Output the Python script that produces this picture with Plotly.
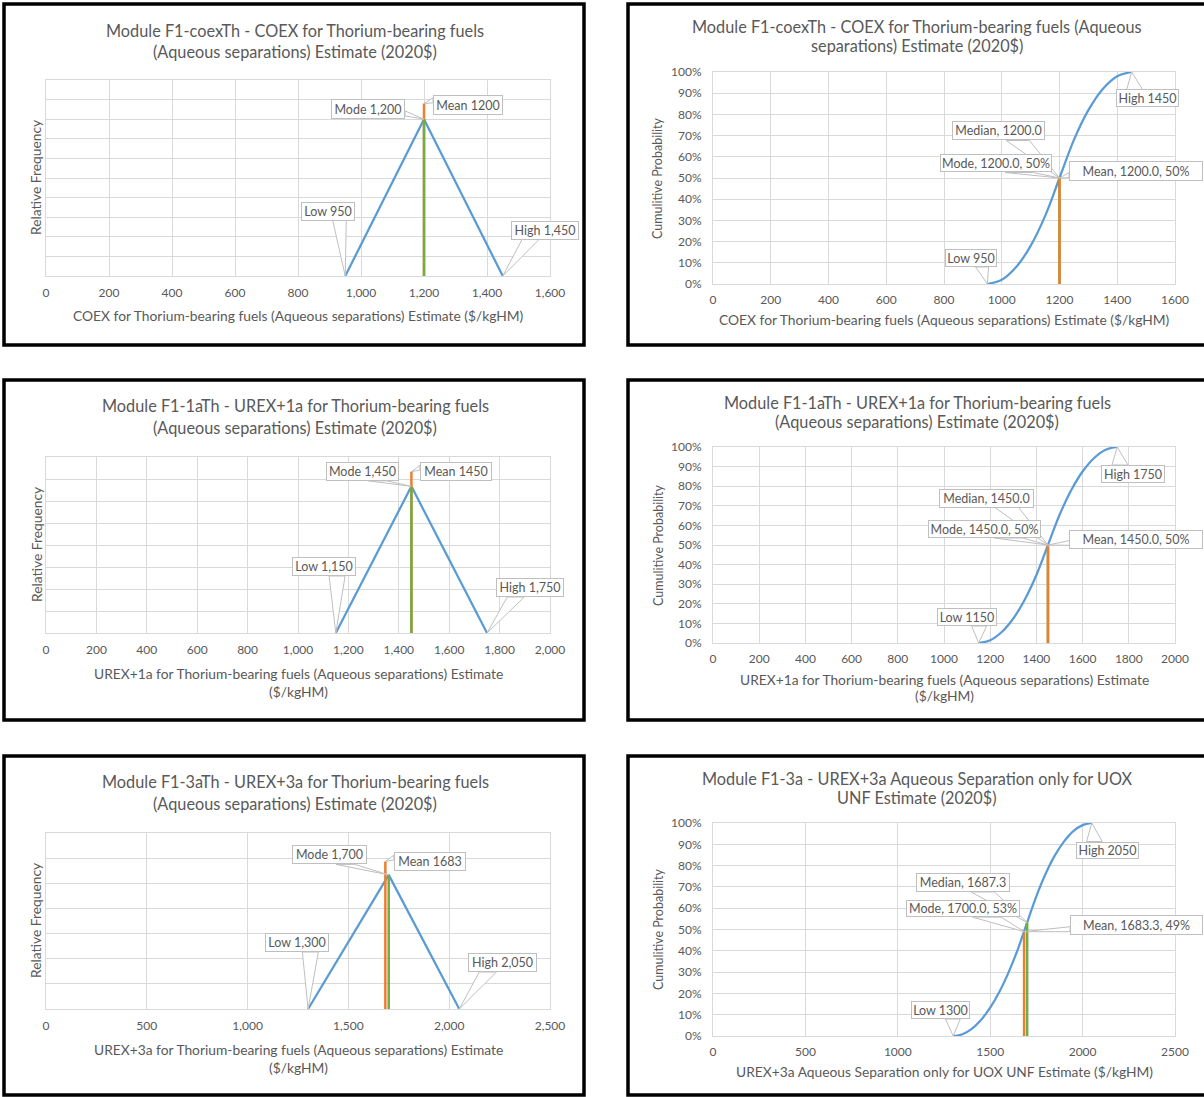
import plotly.graph_objects as go

W, H = 1204, 1097

# ---------------- values ($/kgHM) ----------------
# Module F1-coexTh - COEX for thorium-bearing fuels
coex_low, coex_mode, coex_high = 950, 1200, 1450
coex_mean = 1200.0
coex_median = 1200.0
coex_tri_x = [950, 1200, 1450]
coex_tri_y = [0.0, 0.0040, 0.0]
coex_mode_freq = 0.0040
coex_mean_freq = 0.0044
coex_cdf_x = [950, 1000, 1050, 1100, 1150, 1200, 1250, 1300, 1350, 1400, 1450]
coex_cdf_y = [0.0, 0.02, 0.08, 0.18, 0.32, 0.50, 0.68, 0.82, 0.92, 0.98, 1.0]
coex_mode_cum = 0.50
coex_mean_cum = 0.50

# Module F1-1aTh - UREX+1a for thorium-bearing fuels
u1a_low, u1a_mode, u1a_high = 1150, 1450, 1750
u1a_mean = 1450.0
u1a_median = 1450.0
u1a_tri_x = [1150, 1450, 1750]
u1a_tri_y = [0.0, 0.003333, 0.0]
u1a_mode_freq = 0.003333
u1a_mean_freq = 0.003667
u1a_cdf_x = [1150, 1200, 1250, 1300, 1350, 1400, 1450, 1500, 1550, 1600, 1650, 1700, 1750]
u1a_cdf_y = [0.0, 0.014, 0.056, 0.125, 0.222, 0.347, 0.50, 0.653, 0.778, 0.875, 0.944, 0.986, 1.0]
u1a_mode_cum = 0.50
u1a_mean_cum = 0.50

# Module F1-3aTh - UREX+3a for thorium-bearing fuels
u3th_low, u3th_mode, u3th_high = 1300, 1700, 2050
u3th_mean = 1683.3
u3th_tri_x = [1300, 1700, 2050]
u3th_tri_y = [0.0, 0.002667, 0.0]
u3th_mode_freq = 0.002667
u3th_mean_freq = 0.002933

# Module F1-3a - UREX+3a aqueous separation only for UOX UNF
u3_low, u3_mode, u3_high = 1300, 1700, 2050
u3_mean = 1683.3
u3_median = 1687.3
u3_cdf_x = [1300, 1350, 1400, 1450, 1500, 1550, 1600, 1650, 1700,
            1750, 1800, 1850, 1900, 1950, 2000, 2050]
u3_cdf_y = [0.0, 0.008, 0.033, 0.075, 0.133, 0.208, 0.30, 0.408, 0.533,
            0.657, 0.762, 0.848, 0.914, 0.962, 0.990, 1.0]
u3_mode_cum = 0.533
u3_mean_cum = 0.49

BLUE = "#5B9BD5"
ORANGE = "#ED7D31"
GREEN = "#70AD47"
GRID = "#D9D9D9"
TXT = "#595959"
FONT = "Lato"


def px(xp):
    return xp / W


def py(yp):
    return 1 - yp / H


# Plot areas in page pixels: (left, right), (top, bottom)
panels = [
    dict(n=1, kind="pdf", xd=(46, 550), yd=(80, 276), xr=[0, 1600], xdt=200, yr=[0, 0.005]),
    dict(n=2, kind="cdf", xd=(713, 1175), yd=(72, 284), xr=[0, 1600], xdt=200),
    dict(n=3, kind="pdf", xd=(46, 550), yd=(457, 633), xr=[0, 2000], xdt=200, yr=[0, 0.004]),
    dict(n=4, kind="cdf", xd=(713, 1175), yd=(447, 643), xr=[0, 2000], xdt=200),
    dict(n=5, kind="pdf", xd=(46, 550), yd=(833, 1009), xr=[0, 2500], xdt=500, yr=[0, 0.0035]),
    dict(n=6, kind="cdf", xd=(713, 1175), yd=(823, 1036), xr=[0, 2500], xdt=500),
]

fig = go.Figure()
layout = dict(
    width=W, height=H, autosize=False, margin=dict(l=0, r=0, t=0, b=0, pad=0, autoexpand=False),
    paper_bgcolor="white", plot_bgcolor="white", showlegend=False,
    font=dict(family=FONT, color=TXT, size=12),
)

for p in panels:
    s = "" if p["n"] == 1 else str(p["n"])
    xa = dict(
        domain=[px(p["xd"][0]), px(p["xd"][1])], range=p["xr"], dtick=p["xdt"], tick0=0,
        showgrid=True, gridcolor=GRID, gridwidth=1, zeroline=False, automargin=False,
        showline=True, linecolor=GRID, linewidth=1, mirror=True, ticks="",
        tickfont=dict(family=FONT, size=12, color=TXT),
        tickformat="," if p["kind"] == "pdf" else "d",
        anchor="y" + s, fixedrange=True,
        ticklabelstandoff=6 if p["kind"] == "pdf" else 5,
    )
    ya = dict(
        domain=[py(p["yd"][1]), py(p["yd"][0])],
        showgrid=True, gridcolor=GRID, gridwidth=1, zeroline=False, automargin=False,
        showline=True, linecolor=GRID, linewidth=1, mirror=True, ticks="",
        tickfont=dict(family=FONT, size=12, color=TXT),
        anchor="x" + s, fixedrange=True,
    )
    if p["kind"] == "pdf":
        ya.update(range=p["yr"], dtick=0.0005, tick0=0, showticklabels=False)
    else:
        ya.update(range=[0, 1], dtick=0.1, tick0=0, tickformat=".0%", ticklabelstandoff=8)
    layout["xaxis" + s] = xa
    layout["yaxis" + s] = ya


def line(n, x, y, color, width=2.5, shape="linear"):
    s = "" if n == 1 else str(n)
    fig.add_trace(go.Scatter(
        x=x, y=y, mode="lines", line=dict(color=color, width=width, shape=shape),
        xaxis="x" + s, yaxis="y" + s, hoverinfo="skip"))


# Relative-frequency (triangular) panels
for n, tx, ty, mo, mo_f, me, me_f in [
    (1, coex_tri_x, coex_tri_y, coex_mode, coex_mode_freq, coex_mean, coex_mean_freq),
    (3, u1a_tri_x, u1a_tri_y, u1a_mode, u1a_mode_freq, u1a_mean, u1a_mean_freq),
    (5, u3th_tri_x, u3th_tri_y, u3th_mode, u3th_mode_freq, u3th_mean, u3th_mean_freq),
]:
    line(n, tx, ty, BLUE, 2.25)
    line(n, [me, me], [0, me_f], ORANGE, 2.5)
    line(n, [mo, mo], [0, mo_f], GREEN, 2.5)

# Cumulative-probability panels
for n, cx, cy, mo, mo_c, me, me_c in [
    (2, coex_cdf_x, coex_cdf_y, coex_mode, coex_mode_cum, coex_mean, coex_mean_cum),
    (4, u1a_cdf_x, u1a_cdf_y, u1a_mode, u1a_mode_cum, u1a_mean, u1a_mean_cum),
    (6, u3_cdf_x, u3_cdf_y, u3_mode, u3_mode_cum, u3_mean, u3_mean_cum),
]:
    line(n, cx, cy, BLUE, 2.25, "spline")
    line(n, [mo, mo], [0, mo_c], GREEN, 2.5)
    line(n, [me, me], [0, me_c], ORANGE, 2.5)

# ---------------- callout labels ----------------
# (panel, text, tip x, tip y, box-centre offset from tip in px (right, down), box w, box h)
callouts = [
    (1, f"Mode {coex_mode:,}", coex_mode, coex_mode_freq, -56, -10, 74, 20),
    (1, f"Mean {coex_mean:.0f}", coex_mean, coex_mean_freq, 44, 1, 70, 20),
    (1, f"Low {coex_low:,}", coex_low, 0, -17, -65, 54, 19),
    (1, f"High {coex_high:,}", coex_high, 0, 42, -46, 68, 19),

    (2, f"High {coex_high}", coex_high, 1.0, 16, 26.5, 63, 18),
    (2, f"Median, {coex_median:.1f}", coex_mode, coex_mode_cum, -61, -47, 93, 19),
    (2, f"Mode, {coex_mode:.1f}, {coex_mode_cum:.0%}", coex_mode, coex_mode_cum, -63.5, -14.5, 112, 18),
    (2, f"Mean, {coex_mean:.1f}, {coex_mean_cum:.0%}", coex_mean, coex_mean_cum, 76.5, -7, 134, 20),
    (2, f"Low {coex_low}", coex_low, 0, -16, -26, 52, 18),

    (3, f"Mode {u1a_mode:,}", u1a_mode, u1a_mode_freq, -49, -15, 73, 19),
    (3, f"Mean {u1a_mean:.0f}", u1a_mean, u1a_mean_freq, 44.5, 0, 72, 19),
    (3, f"Low {u1a_low:,}", u1a_low, 0, -12, -66.5, 64, 19),
    (3, f"High {u1a_high:,}", u1a_high, 0, 43, -45.5, 68, 19),

    (4, f"High {u1a_high}", u1a_high, 1.0, 16, 27, 64, 18),
    (4, f"Median, {u1a_median:.1f}", u1a_mode, u1a_mode_cum, -61, -47, 95, 19),
    (4, f"Mode, {u1a_mode:.1f}, {u1a_mode_cum:.0%}", u1a_mode, u1a_mode_cum, -63, -16, 113, 18),
    (4, f"Mean, {u1a_mean:.1f}, {u1a_mean_cum:.0%}", u1a_mean, u1a_mean_cum, 88.5, -6, 134, 19),
    (4, f"Low {u1a_low}", u1a_low, 0, -12, -26, 60, 18),

    (5, f"Mode {u3th_mode:,}", u3th_mode, u3th_mode_freq, -59, -20, 75, 19),
    (5, f"Mean {u3th_mean:.0f}", u3th_mean, u3th_mean_freq, 44.5, 0, 72, 19),
    (5, f"Low {u3th_low:,}", u3th_low, 0, -11, -66.5, 64, 19),
    (5, f"High {u3th_high:,}", u3th_high, 0, 43, -46.5, 69, 19),

    (6, f"High {u3_high}", u3_high, 1.0, 15.7, 27, 63, 17),
    (6, f"Median, {u3_median:.1f}", u3_mode, u3_mode_cum, -64, -40, 94, 19),
    (6, f"Mode, {u3_mode:.1f}, {u3_mode_cum:.0%}", u3_mean, u3_mean_cum, -61, -23, 114, 17),
    (6, f"Mean, {u3_mean:.1f}, {u3_mean_cum:.0%}", u3_mean, u3_mean_cum, 112.5, -6.6, 133, 20),
    (6, f"Low {u3_low}", u3_low, 0, -12.7, -26, 59, 18),
]


def wedge(ox, oy, w, h):
    """Rectangle-callout wedge: tip at (0,0), base on the box side facing the tip."""
    dxp, dyp = -ox, -oy
    left, top = ox - w / 2, oy - h / 2
    dq = dxp * h / w
    if abs(dyp) - abs(dq) > 0:
        yb = oy + h / 2 if dyp > 0 else oy - h / 2
        g1, g2 = (7, 10) if dxp > 0 else (2, 5)
        b1, b2 = (left + w * g1 / 12, yb), (left + w * g2 / 12, yb)
    else:
        xb = ox + w / 2 if dxp > 0 else ox - w / 2
        g1, g2 = (7, 10) if dyp > 0 else (2, 5)
        b1, b2 = (xb, top + h * g1 / 12), (xb, top + h * g2 / 12)
    # pixel paths measure y upward
    return f"M{b1[0]:.1f},{-b1[1]:.1f} L0,0 L{b2[0]:.1f},{-b2[1]:.1f} Z"


shapes = []
annotations = []
for n, text, tx, ty, ox, oy, w, h in callouts:
    s = "" if n == 1 else str(n)
    shapes.append(dict(
        type="path", xref="x" + s, yref="y" + s, xsizemode="pixel", ysizemode="pixel",
        xanchor=tx, yanchor=ty, path=wedge(ox, oy, w, h),
        line=dict(color="#BFBFBF", width=1), fillcolor="white", layer="above"))
    annotations.append(dict(
        xref="x" + s, yref="y" + s, x=tx, y=ty, xshift=ox, yshift=-oy,
        text=text, showarrow=False, xanchor="center", yanchor="middle",
        width=w - 2, height=h - 2, borderpad=0, borderwidth=1,
        bordercolor="#BFBFBF", bgcolor="white",
        font=dict(family=FONT, size=12.5, color=TXT)))

# ---------------- titles and axis titles ----------------
def label(x, y, text, size, angle=0):
    annotations.append(dict(
        xref="paper", yref="paper", x=px(x), y=py(y), text=text, showarrow=False,
        xanchor="center", yanchor="middle", textangle=angle,
        font=dict(family=FONT, size=size, color=TXT)))


TS = 16.3
label(295, 30, "Module F1-coexTh - COEX for Thorium-bearing fuels", TS)
label(295, 51, "(Aqueous separations) Estimate (2020$)", TS)
label(917, 27, "Module F1-coexTh - COEX for Thorium-bearing fuels (Aqueous", TS)
label(917, 46, "separations) Estimate (2020$)", TS)
label(295, 405, "Module F1-1aTh - UREX+1a for Thorium-bearing fuels", TS)
label(295, 427, "(Aqueous separations) Estimate (2020$)", TS)
label(917, 402, "Module F1-1aTh - UREX+1a for Thorium-bearing fuels", TS)
label(917, 421, "(Aqueous separations) Estimate (2020$)", TS)
label(295, 781, "Module F1-3aTh - UREX+3a for Thorium-bearing fuels", TS)
label(295, 803, "(Aqueous separations) Estimate (2020$)", TS)
label(917, 778, "Module F1-3a - UREX+3a Aqueous Separation only for UOX", TS)
label(917, 797, "UNF Estimate (2020$)", TS)

AS = 13.8
label(298, 315, "COEX for Thorium-bearing fuels (Aqueous separations) Estimate ($/kgHM)", AS)
label(944, 319, "COEX for Thorium-bearing fuels (Aqueous separations) Estimate ($/kgHM)", AS)
label(298, 673, "UREX+1a for Thorium-bearing fuels (Aqueous separations) Estimate", AS)
label(298, 691, "($/kgHM)", AS)
label(944, 679, "UREX+1a for Thorium-bearing fuels (Aqueous separations) Estimate", AS)
label(944, 695, "($/kgHM)", AS)
label(298, 1049, "UREX+3a for Thorium-bearing fuels (Aqueous separations) Estimate", AS)
label(298, 1067, "($/kgHM)", AS)
label(944, 1071, "UREX+3a Aqueous Separation only for UOX UNF Estimate ($/kgHM)", AS)

for yc in (178, 545, 921):
    label(36, yc, "Relative Frequency", 13.8, -90)
for yc in (178, 545, 929):
    label(658, yc, "Cumulitive Probability", 12.5, -90)

# ---------------- chart-area frames ----------------
for x0, x1, y0, y1 in [(4, 584, 4, 345), (628, 1212, 4, 345),
                       (4, 584, 380, 720), (628, 1212, 380, 720),
                       (4, 584, 756, 1095), (628, 1212, 756, 1095)]:
    shapes.append(dict(type="rect", xref="paper", yref="paper",
                       x0=px(x0), x1=px(x1), y0=py(y1), y1=py(y0),
                       line=dict(color="black", width=3.5), fillcolor="rgba(0,0,0,0)",
                       layer="above"))

layout["shapes"] = shapes
layout["annotations"] = annotations
fig.update_layout(**layout)
fig.write_html("out.html")
